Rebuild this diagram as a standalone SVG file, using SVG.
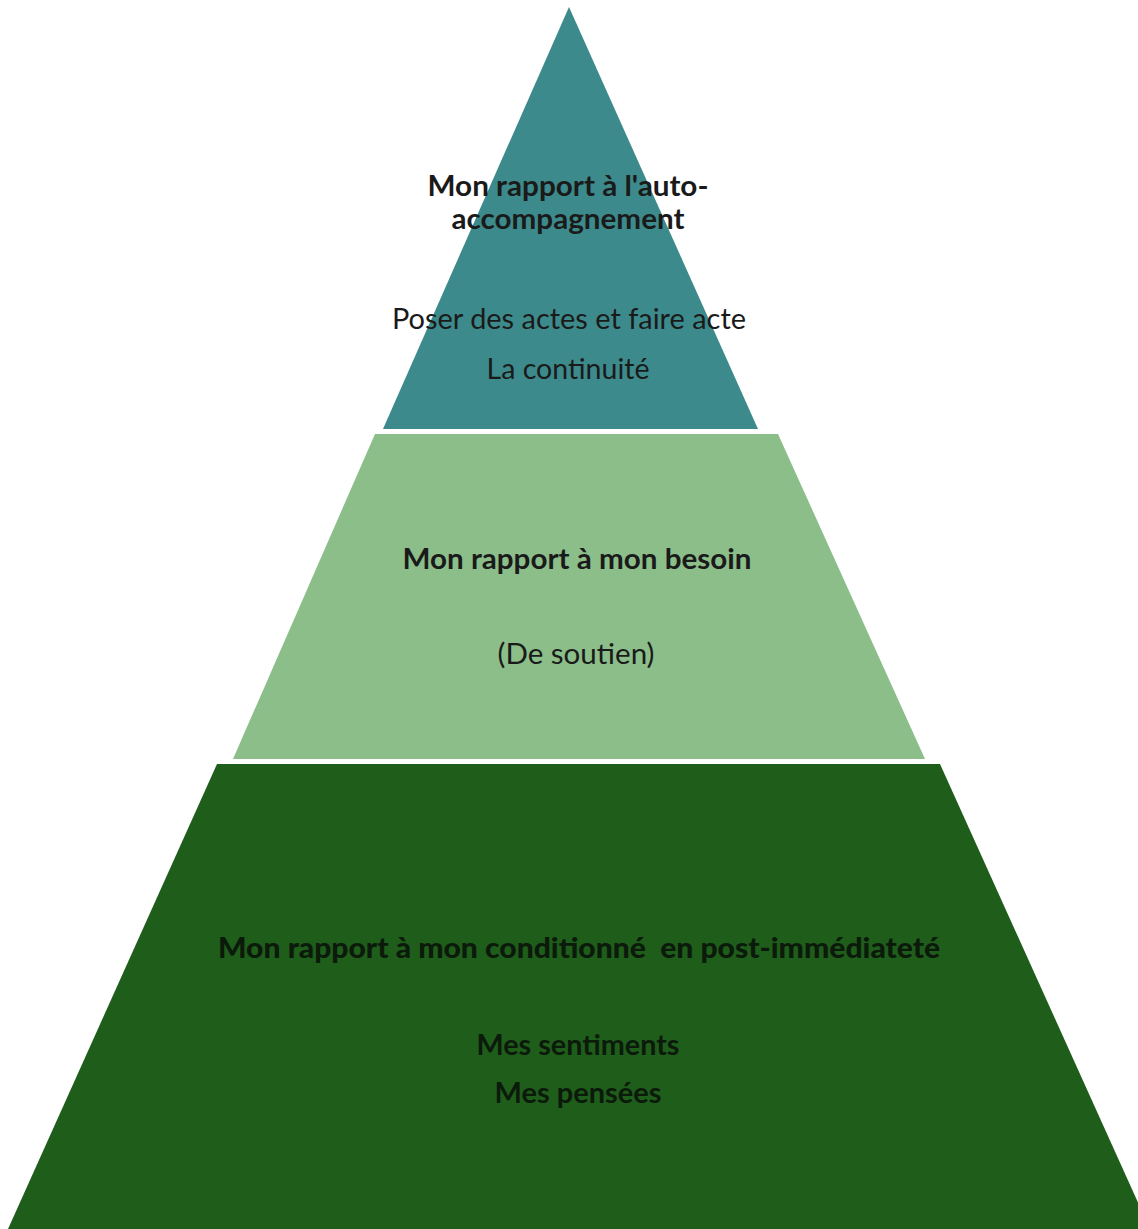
<svg xmlns="http://www.w3.org/2000/svg" width="1138" height="1229" viewBox="0 0 1138 1229">
<style>
text{font-family:Lato,"Liberation Sans",sans-serif;font-size:28px;text-anchor:middle;fill:#1a1a1a}
.b{font-weight:bold}
.d{fill:#0b1a0a}
.h{font-weight:900}
</style>
<rect width="1138" height="1229" fill="#ffffff"/>
<g id="level-top">
<polygon points="569,7 758,429 383,429" fill="#3c8a8b"/>
<text class="b" x="568" y="196" textLength="281" lengthAdjust="spacingAndGlyphs">Mon rapport à l'auto-</text>
<text class="b" x="568" y="229" textLength="233" lengthAdjust="spacingAndGlyphs">accompagnement</text>
<text x="569" y="329" textLength="354" lengthAdjust="spacingAndGlyphs">Poser des actes et faire acte</text>
<text x="568" y="379" textLength="163" lengthAdjust="spacingAndGlyphs">La continuité</text>
</g>
<g id="level-middle">
<polygon points="375,434 778,434 925,759 233,759" fill="#8cbe8a"/>
<text class="b" x="577" y="569" textLength="349" lengthAdjust="spacingAndGlyphs">Mon rapport à mon besoin</text>
<text x="576" y="664" textLength="157" lengthAdjust="spacingAndGlyphs">(De soutien)</text>
</g>
<g id="level-bottom">
<polygon points="217,764 940,764 1150,1229 8,1229" fill="#1f5d1b"/>
<text class="h d" x="579" y="958" textLength="722" lengthAdjust="spacingAndGlyphs">Mon rapport à mon conditionné &#160;en post-immédiateté</text>
<text class="b d" x="578" y="1055" textLength="203" lengthAdjust="spacingAndGlyphs">Mes sentiments</text>
<text class="b d" x="578" y="1103" textLength="167" lengthAdjust="spacingAndGlyphs">Mes pensées</text>
</g>
<g id="connectors"/>
</svg>
